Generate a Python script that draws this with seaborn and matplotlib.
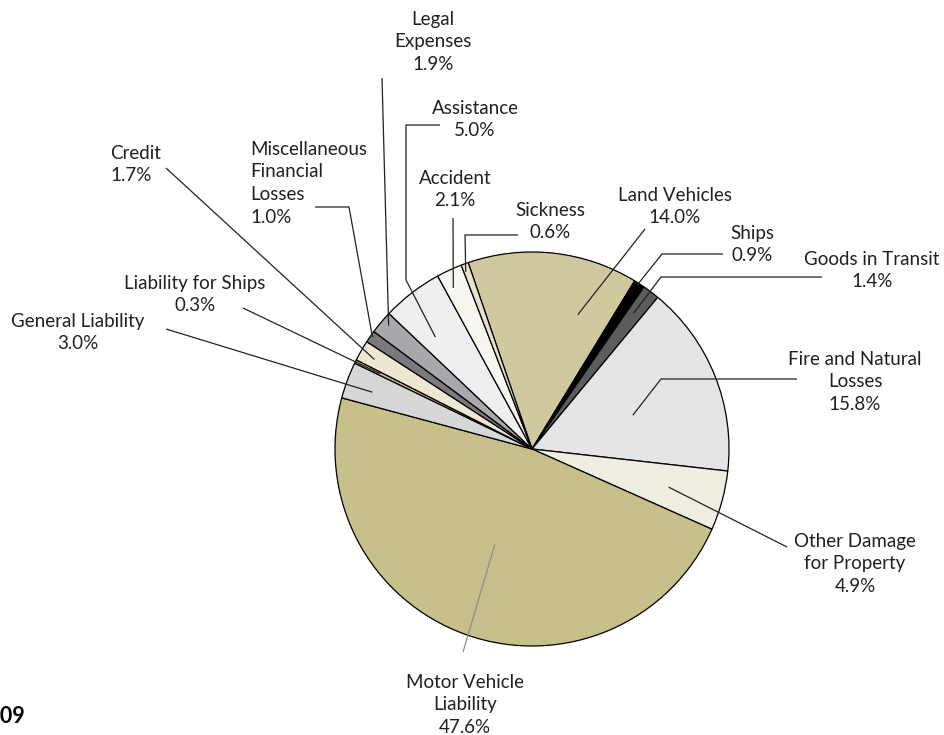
import numpy as np
import matplotlib
matplotlib.use("Agg")
import matplotlib.pyplot as plt
import seaborn as sns

# data (clockwise from the top)
categories = ["Land Vehicles", "Ships", "Goods in Transit", "Fire and Natural\nLosses",
              "Other Damage\nfor Property", "Motor Vehicle\nLiability", "General Liability",
              "Liability for Ships", "Credit", "Miscellaneous\nFinancial\nLosses",
              "Legal\nExpenses", "Assistance", "Accident", "Sickness"]
shares = [14.0, 0.9, 1.4, 15.8, 4.9, 47.6, 3.0, 0.3, 1.7, 1.0, 1.9, 5.0, 2.1, 0.6]
colors = ["#d0c99f", "#000000", "#5c5c5e", "#e4e5e7", "#f0eee2", "#c7c08b", "#d6d7d9",
          "#c7c08b", "#ece8d3", "#7a7a7d", "#a8a9ac", "#efeff0", "#f7f6f0", "#e8e4cb"]

W, H = 944, 735
CX, CY, R = 532, 449, 197
FS = 13.5

# label layout in pixel coords: (x, y of first line center, alignment)
label_pos = [(675, 194, "center"), (752, 232, "center"), (872, 258, "center"),
             (855, 358, "center"), (855, 540, "center"), (465, 681, "center"),
             (78, 320, "center"), (195, 282, "center"), (110, 152, "left"),
             (250, 148, "left"), (433, 18, "center"), (475, 107, "center"),
             (455, 177, "center"), (550, 209, "center")]
# leader lines: fixed bend points, then an anchor inside the wedge (t across wedge, radius fraction)
leader_pts = [[(645, 229)], [(723, 254), (662, 254)], [(822, 277), (661, 277)],
              [(797, 379), (661, 379)], [(787, 547)], [(463, 652)], [(166, 329)],
              [(243, 308)], [(166, 168)], [(315, 207), (349, 207)], [(382, 78)],
              [(440, 125), (406, 125), (406, 280)], [(453, 218)], [(518, 235), (465, 235)]]
anchors = [(0.25, 0.72), (0.6, 0.99), (0.57, 0.86), (0.44, 0.54), (0.48, 0.72),
           (0.49, 0.52), (0.58, 0.86), (0.5, 0.86), (0.56, 0.92), (0.42, 0.99),
           (0.4, 0.96), (0.68, 0.75), (0.66, 0.91), (0.75, 0.96)]

sns.set_theme(style="white")
plt.rcParams["font.family"] = ["Lato", "DejaVu Sans"]

fig = plt.figure(figsize=(W / 100, H / 100), dpi=100)
ax = fig.add_axes([0, 0, 1, 1])

wedges, _ = ax.pie(shares, colors=colors, startangle=108.9, counterclock=False,
                   center=(CX, H - CY), radius=R,
                   wedgeprops=dict(edgecolor="black", linewidth=0.9))
ax.set_xlim(0, W)
ax.set_ylim(0, H)
ax.set_aspect("equal")
ax.axis("off")

half_line = 7.5
for i, w in enumerate(wedges):
    t, rf = anchors[i]
    ang = np.deg2rad(w.theta1 + t * (w.theta2 - w.theta1))
    end = (CX + rf * R * np.cos(ang), H - CY + rf * R * np.sin(ang))
    pts = [(x, H - y) for x, y in leader_pts[i]] + [end]
    xs, ys = zip(*pts)
    lc = "#8c8c8c" if i == 5 else "#222222"
    ax.plot(xs, ys, color=lc, lw=0.9, solid_capstyle="butt", zorder=3)

    lx, ly, ha = label_pos[i]
    ax.text(lx, H - ly + half_line, f"{categories[i]}\n{shares[i]:.1f}%",
            ha=ha, va="top", multialignment=ha, fontsize=FS,
            color="#231f20", linespacing=1.42)

# year caption, cut off at the left edge as in the source
fig.text(24.5 / W, 1 - 723 / H, "2009", ha="right", va="baseline",
         fontsize=15.5, fontweight="bold", color="black")

fig.savefig("out.png", dpi=100)
